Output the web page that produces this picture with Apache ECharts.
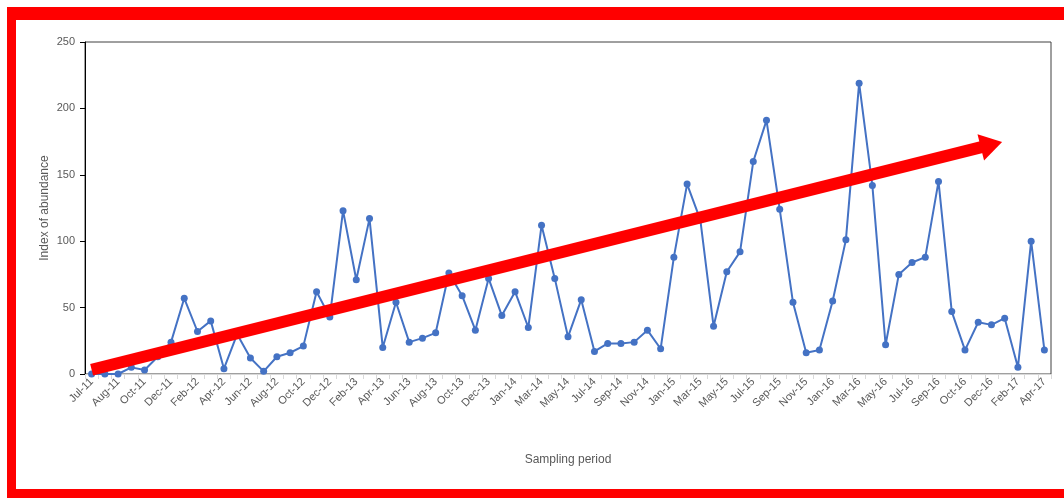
<!DOCTYPE html>
<html>
<head>
<meta charset="utf-8">
<script src="https://cdn.jsdelivr.net/npm/echarts@6/dist/echarts.min.js"></script>
<style>
html,body{margin:0;padding:0;background:#fff;}
#chart{position:absolute;left:0;top:0;width:1064px;height:498px;}
.fr{position:absolute;background:#ff0000;}
</style>
</head>
<body>
<div id="chart"></div>
<div class="fr" style="left:7px;top:7px;width:1057px;height:13px;"></div>
<div class="fr" style="left:7px;top:7px;width:9px;height:491px;"></div>
<div class="fr" style="left:7px;top:489px;width:1057px;height:9px;"></div>
<script>
// Sampling periods (73 samples; some months sampled twice)
var categories = [
  'Jul-11','Jul-11','Aug-11','Sep-11','Oct-11','Nov-11','Dec-11','Jan-12','Feb-12','Mar-12',
  'Apr-12','May-12','Jun-12','Jul-12','Aug-12','Sep-12','Oct-12','Nov-12','Dec-12','Jan-13',
  'Feb-13','Mar-13','Apr-13','May-13','Jun-13','Jul-13','Aug-13','Sep-13','Oct-13','Nov-13',
  'Dec-13','Dec-13','Jan-14','Feb-14','Mar-14','Apr-14','May-14','Jun-14','Jul-14','Aug-14',
  'Sep-14','Oct-14','Nov-14','Dec-14','Jan-15','Feb-15','Mar-15','Apr-15','May-15','Jun-15',
  'Jul-15','Aug-15','Sep-15','Oct-15','Nov-15','Dec-15','Jan-16','Feb-16','Mar-16','Apr-16',
  'May-16','Jun-16','Jul-16','Aug-16','Sep-16','Sep-16','Oct-16','Nov-16','Dec-16','Jan-17',
  'Feb-17','Mar-17','Apr-17'
];
var abundance = [
  0, 0, 0, 5, 3, 13, 24, 57, 32, 40,
  4, 30, 12, 2, 13, 16, 21, 62, 43, 123,
  71, 117, 20, 54, 24, 27, 31, 76, 59, 33,
  72, 44, 62, 35, 112, 72, 28, 56, 17, 23,
  23, 24, 33, 19, 88, 143, 116, 36, 77, 92,
  160, 191, 124, 54, 16, 18, 55, 101, 219, 142,
  22, 75, 84, 88, 145, 47, 18, 39, 37, 42,
  5, 100, 18
];
var yTicks = [0, 50, 100, 150, 200, 250];
// Trend arrow annotation in data coordinates: [category index, value]
var arrowStart = [0, 3.2];
var arrowEnd = [68, 172.7];

var chart = echarts.init(document.getElementById('chart'), null, {renderer: 'canvas'});
chart.setOption({
  animation: false,
  backgroundColor: 'transparent',
  grid: {left: 85, right: 13, top: 42, bottom: 124, show: true, borderColor: '#404040', borderWidth: 1, backgroundColor: 'transparent', containLabel: false},
  xAxis: {
    type: 'category',
    data: categories,
    boundaryGap: true,
    name: 'Sampling period',
    nameLocation: 'middle',
    nameGap: 80,
    nameMoveOverlap: false,
    nameTextStyle: {color: '#595959', fontSize: 12, fontFamily: 'Liberation Sans'},
    axisLine: {lineStyle: {color: '#d9d9d9', width: 1}},
    axisTick: {show: true, interval: 0, length: 5, lineStyle: {color: '#d9d9d9'}},
    axisLabel: {interval: 1, rotate: 45, margin: 6, color: '#595959', fontSize: 11, fontFamily: 'Liberation Sans'},
    splitLine: {show: false}
  },
  yAxis: {
    type: 'value',
    min: 0, max: 250, interval: 50,
    name: 'Index of abundance',
    nameLocation: 'middle',
    nameGap: 34,
    nameMoveOverlap: false,
    nameTextStyle: {color: '#595959', fontSize: 12, fontFamily: 'Liberation Sans'},
    axisLine: {show: true, lineStyle: {color: '#000', width: 1}},
    axisTick: {show: true, length: 5, lineStyle: {color: '#000'}},
    axisLabel: {color: '#595959', fontSize: 11, fontFamily: 'Liberation Sans', margin: 10,
      formatter: function (v) { return yTicks.indexOf(v) >= 0 ? String(v) : ''; }},
    splitLine: {show: false}
  },
  series: [{
    type: 'line',
    data: abundance,
    symbol: 'circle',
    symbolSize: 7,
    showSymbol: true,
    lineStyle: {color: '#4472C4', width: 2},
    itemStyle: {color: '#4472C4'},
    z: 2,
    markLine: {
      silent: true,
      animation: false,
      z: 5,
      label: {show: false},
      emphasis: {disabled: true},
      lineStyle: {color: '#ff0000', width: 12, type: 'solid', opacity: 1},
      data: [[
        {coord: arrowStart, symbol: 'none'},
        {coord: arrowEnd, symbol: 'triangle', symbolSize: [27, 22]}
      ]]
    }
  }]
});
</script>
</body>
</html>
